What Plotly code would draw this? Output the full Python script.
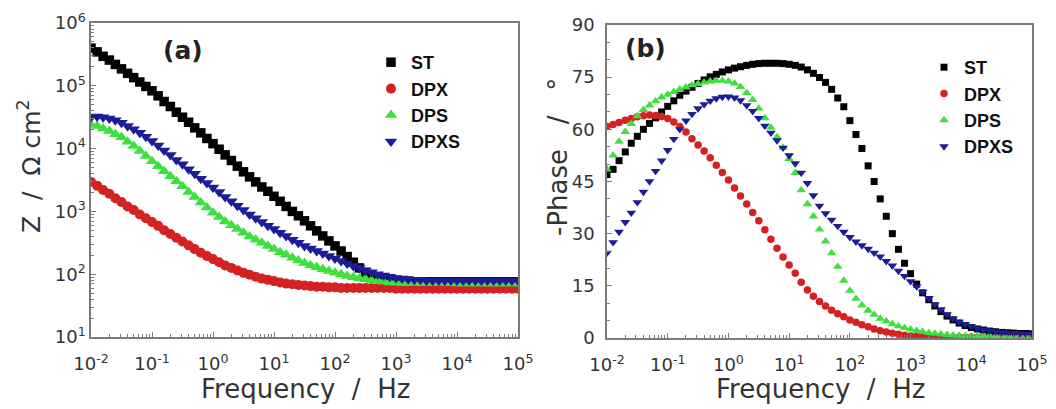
import plotly.graph_objects as go

# Frequencies (Hz), 10 points per decade from 10^-2 to 10^5
freq = [
    0.01, 0.0126, 0.0158, 0.02, 0.0251, 0.0316, 0.0398, 0.0501, 0.0631, 0.0794,
    0.1, 0.126, 0.158, 0.2, 0.251, 0.316, 0.398, 0.501, 0.631, 0.794,
    1, 1.26, 1.58, 2, 2.51, 3.16, 3.98, 5.01, 6.31, 7.94,
    10, 12.6, 15.8, 20, 25.1, 31.6, 39.8, 50.1, 63.1, 79.4,
    100, 126, 158, 200, 251, 316, 398, 501, 631, 794,
    1000, 1260, 1580, 2000, 2510, 3160, 3980, 5010, 6310, 7940,
    10000, 12600, 15800, 20000, 25100, 31600, 39800, 50100, 63100, 79400,
    100000,
]

series_names = ["ST", "DPX", "DPS", "DPXS"]

# |Z| (Ohm cm^2)
z_st = [
    398000, 347000, 295000, 257000, 219000, 186000, 158000, 135000, 115000, 97700,
    83200, 69200, 56200, 46800, 38000, 31600, 26300, 21400, 17800, 14500,
    12000, 9770, 7940, 6460, 5250, 4270, 3550, 2950, 2450, 2090,
    1740, 1450, 1200, 1000, 851, 708, 589, 490, 407, 339,
    282, 234, 191, 155, 126, 107, 95.5, 89.1, 85.1, 81.3,
    79.4, 77.6, 77.6, 75.9, 75.9, 75.9, 75.9, 75.9, 75.9, 75.9,
    75.9, 75.9, 75.9, 75.9, 75.9, 75.9, 75.9, 75.9, 75.9, 75.9,
    75.9,
]
z_dpx = [
    2950, 2570, 2190, 1910, 1620, 1410, 1200, 1050, 891, 776,
    676, 589, 501, 437, 380, 331, 288, 251, 219, 195,
    174, 155, 138, 126, 115, 105, 97.7, 91.2, 85.1, 81.3,
    77.6, 74.1, 70.8, 69.2, 67.6, 66.1, 64.6, 63.1, 63.1, 61.7,
    61.7, 60.3, 60.3, 60.3, 60.3, 60.3, 60.3, 60.3, 60.3, 60.3,
    58.9, 58.9, 58.9, 58.9, 58.9, 58.9, 58.9, 58.9, 58.9, 58.9,
    58.9, 58.9, 58.9, 58.9, 58.9, 58.9, 58.9, 58.9, 58.9, 58.9,
    58.9,
]
z_dps = [
    24000, 22900, 20900, 19100, 17000, 15100, 12900, 11000, 9120, 7590,
    6310, 5250, 4370, 3630, 3020, 2510, 2040, 1700, 1380, 1150,
    955, 813, 692, 603, 525, 457, 398, 355, 316, 282,
    251, 224, 204, 182, 166, 151, 138, 129, 120, 112,
    105, 100, 93.3, 89.1, 85.1, 83.2, 79.4, 77.6, 75.9, 74.1,
    74.1, 72.4, 72.4, 72.4, 72.4, 72.4, 72.4, 72.4, 72.4, 72.4,
    70.8, 70.8, 70.8, 70.8, 70.8, 70.8, 70.8, 70.8, 70.8, 70.8,
    70.8,
]
z_dpxs = [
    31600, 32400, 31600, 30200, 28200, 25700, 22900, 20400, 17800, 15500,
    13200, 11200, 9330, 7940, 6610, 5620, 4680, 3980, 3310, 2820,
    2400, 2040, 1700, 1450, 1230, 1050, 891, 776, 676, 589,
    525, 457, 407, 355, 316, 282, 257, 234, 214, 195,
    178, 162, 148, 135, 126, 115, 107, 100, 95.5, 91.2,
    87.1, 85.1, 83.2, 81.3, 81.3, 79.4, 79.4, 79.4, 79.4, 79.4,
    79.4, 79.4, 79.4, 79.4, 79.4, 79.4, 79.4, 79.4, 79.4, 79.4,
    79.4,
]

# -Phase (degrees)
ph_st = [
    47, 48.5, 51, 53.5, 56, 58, 60, 61.7, 63.3, 65,
    66.6, 68.2, 69.8, 71, 72.1, 73.2, 74.2, 75.1, 75.8, 76.5,
    77.1, 77.6, 78.0, 78.4, 78.7, 78.9, 79.0, 79.0, 79.0, 78.9,
    78.7, 78.4, 77.9, 77.1, 76.1, 74.9, 73.5, 71.5, 69, 66.5,
    62.5, 58.5, 54.5, 49.5, 45, 40, 35, 30, 25.5, 21.5,
    18.5, 15.5, 13, 11, 9.2, 7.6, 6.3, 5.2, 4.3, 3.6,
    3.0, 2.6, 2.3, 2.0, 1.8, 1.6, 1.5, 1.4, 1.3, 1.3,
    1.2,
]
ph_dpx = [
    60.8, 61.4, 62.0, 62.6, 63.1, 63.6, 63.9, 64.1, 64.0, 63.7,
    63.1, 62.1, 60.8, 59.2, 57.3, 55.5, 53.8, 51.8, 49.7, 47.6,
    45.4, 43.1, 40.8, 38.5, 36.1, 33.7, 31.1, 28.4, 25.8, 23.3,
    21.0, 18.6, 16.0, 13.8, 12.0, 10.5, 9.2, 8.0, 7.0, 6.1,
    5.2, 4.5, 3.8, 3.2, 2.6, 2.1, 1.7, 1.4, 1.1, 0.8,
    0.6, 0.5, 0.4, 0.3, 0.3, 0.3, 0.2, 0.2, 0.2, 0.2,
    0.2, 0.2, 0.2, 0.2, 0.2, 0.2, 0.2, 0.2, 0.2, 0.2,
    0.2,
]
ph_dps = [
    48.5, 52.5, 56.5, 59.3, 61.6, 63.8, 65.6, 66.9, 68.1, 69.2,
    70.0, 70.8, 71.5, 72.1, 72.7, 73.1, 73.5, 73.8, 74.0, 74.0,
    73.8, 73.2, 72.2, 70.5, 68.5, 66.0, 63.2, 60.5, 57.8, 54.8,
    51.5, 47.5, 42.5, 38.5, 35.0, 31.2, 27.8, 24.4, 20.5, 16.5,
    13.6, 11.3, 9.4, 7.9, 6.7, 5.6, 4.8, 4.0, 3.4, 2.9,
    2.5, 2.1, 1.8, 1.5, 1.3, 1.1, 0.9, 0.8, 0.7, 0.6,
    0.5, 0.5, 0.5, 0.5, 0.4, 0.4, 0.4, 0.4, 0.4, 0.4,
    0.4,
]
ph_dpxs = [
    24.5, 27.5, 30.5, 33.3, 36.0, 39.0, 42.0, 45.0, 48.0, 51.0,
    54.0, 57.2, 60.0, 62.5, 64.4, 66.0, 67.2, 68.2, 68.9, 69.3,
    69.4, 69.1, 68.3, 66.9, 65.2, 63.2, 61.0, 59.0, 56.8, 54.7,
    52.5, 50.2, 47.5, 44.5, 41.0, 38.0, 35.8, 34.0, 32.2, 30.5,
    29.0, 27.7, 26.6, 25.6, 24.5, 23.4, 22.1, 20.8, 19.3, 17.8,
    16.3, 14.8, 13.2, 11.5, 9.7, 8.2, 6.8, 5.6, 4.6, 3.9,
    3.3, 2.8, 2.4, 2.1, 1.8, 1.6, 1.5, 1.4, 1.3, 1.2,
    1.2,
]

# Tick labels
freq_tickvals = [0.01, 0.1, 1, 10, 100, 1000, 10000, 100000]
freq_ticktext = ["10<sup>-2</sup>", "10<sup>-1</sup>", "10<sup>0</sup>", "10<sup>1</sup>",
                 "10<sup>2</sup>", "10<sup>3</sup>", "10<sup>4</sup>", "10<sup>5</sup>"]
z_tickvals = [10, 100, 1000, 10000, 100000, 1000000]
z_ticktext = ["10<sup>1</sup>", "10<sup>2</sup>", "10<sup>3</sup>", "10<sup>4</sup>",
              "10<sup>5</sup>", "10<sup>6</sup>"]
phase_ticks = [0, 15, 30, 45, 60, 75, 90]

z_data = [z_st, z_dpx, z_dps, z_dpxs]
ph_data = [ph_st, ph_dpx, ph_dps, ph_dpxs]

colors = ["#000000", "#d42222", "#3ee03e", "#1c1c96"]
symbols = ["square", "circle", "triangle-up", "triangle-down"]
sizes_a = [9.5, 10, 11, 11]
sizes_b = [7, 7.5, 8.5, 8.5]

FONT = "DejaVu Sans, sans-serif"
LEGFONT = "Liberation Sans, Arial, sans-serif"
AXC = "#7a7a7a"
TXT = "#333333"

# The page body has an 8px margin; figure is sized so it ends at the window edge.
BODY = 8
W, H = 1056 - BODY, 409 - BODY


def px(x):
    return (x - BODY) / W


def py(y):
    return 1 - (y - BODY) / H


fig = go.Figure()
for name, z, c, s, sz in zip(series_names, z_data, colors, symbols, sizes_a):
    fig.add_trace(go.Scatter(
        x=freq, y=z, mode="markers", name=name,
        marker=dict(symbol=s, color=c, size=sz, line=dict(width=0)),
        xaxis="x", yaxis="y", legend="legend",
    ))
for name, p, c, s, sz in zip(series_names, ph_data, colors, symbols, sizes_b):
    fig.add_trace(go.Scatter(
        x=freq, y=p, mode="markers", name=name,
        marker=dict(symbol=s, color=c, size=sz, line=dict(width=0)),
        xaxis="x2", yaxis="y2", legend="legend2",
    ))

axis_common = dict(
    automargin=False,
    showline=True, linecolor=AXC, linewidth=1.5, mirror=True,
    ticks="inside", ticklen=5, tickcolor=AXC, tickwidth=1.2,
    showgrid=False, zeroline=False,
    tickfont=dict(family=FONT, size=18, color=TXT),
)
log_x = dict(
    type="log", range=[-2, 5], tickvals=freq_tickvals, ticktext=freq_ticktext,
    ticklabelstandoff=10,
    minor=dict(ticks="inside", ticklen=3, tickcolor=AXC, showgrid=False,
               tickvals=[m * 10 ** e for e in range(-2, 5) for m in range(2, 10)]),
)

legend_font = dict(family=LEGFONT, size=18, color="#111111", weight="bold")

fig.update_layout(
    width=W, height=H,
    margin=dict(l=0, r=0, t=0, b=0, autoexpand=False),
    paper_bgcolor="white", plot_bgcolor="white",
    showlegend=True,
    xaxis=dict(domain=[px(91), px(518)], anchor="y", **log_x, **axis_common),
    yaxis=dict(domain=[py(337), py(23)], anchor="x", type="log",
               range=[1, 6], tickvals=z_tickvals, ticktext=z_ticktext,
               minor=dict(ticks="inside", ticklen=3, tickcolor=AXC, showgrid=False,
                          tickvals=[m * 10 ** e for e in range(1, 6) for m in range(2, 10)]),
               **axis_common),
    xaxis2=dict(domain=[px(607), px(1032)], anchor="y2", **log_x, **axis_common),
    yaxis2=dict(domain=[py(338), py(25)], anchor="x2",
                range=[0, 90], tickvals=phase_ticks, ticklabelstandoff=7,
                minor=dict(ticks="inside", ticklen=3, tickcolor=AXC, dtick=5),
                **axis_common),
    legend=dict(x=px(371), y=py(44), xanchor="left", yanchor="top",
                bgcolor="rgba(0,0,0,0)", borderwidth=0, font=legend_font,
                itemwidth=30, tracegroupgap=0),
    legend2=dict(x=px(924), y=py(49), xanchor="left", yanchor="top",
                 bgcolor="rgba(0,0,0,0)", borderwidth=0, font=legend_font,
                 itemwidth=30, tracegroupgap=0),
    annotations=[
        dict(text="<b>(a)</b>", xref="paper", yref="paper", x=px(183), y=py(50),
             xanchor="center", yanchor="middle",
             showarrow=False, font=dict(family=FONT, size=25, color="#222222")),
        dict(text="<b>(b)</b>", xref="paper", yref="paper", x=px(645), y=py(49),
             xanchor="center", yanchor="middle",
             showarrow=False, font=dict(family=FONT, size=25, color="#222222")),
        dict(text="Frequency  /  Hz", xref="paper", yref="paper", x=px(305), y=py(389),
             xanchor="center", yanchor="middle",
             showarrow=False, font=dict(family=FONT, size=26, color=TXT)),
        dict(text="Frequency  /  Hz", xref="paper", yref="paper", x=px(820), y=py(389),
             xanchor="center", yanchor="middle",
             showarrow=False, font=dict(family=FONT, size=26, color=TXT)),
        dict(text="Z  /  Ω cm<sup>2</sup>", xref="paper", yref="paper", x=px(29), y=py(166),
             xanchor="center", yanchor="middle",
             showarrow=False, textangle=-90, font=dict(family=FONT, size=25, color=TXT)),
        dict(text="-Phase   /   °", xref="paper", yref="paper", x=px(558), y=py(157),
             xanchor="center", yanchor="middle",
             showarrow=False, textangle=-90, font=dict(family=FONT, size=26, color=TXT)),
    ],
)

fig.write_html("out.html")
